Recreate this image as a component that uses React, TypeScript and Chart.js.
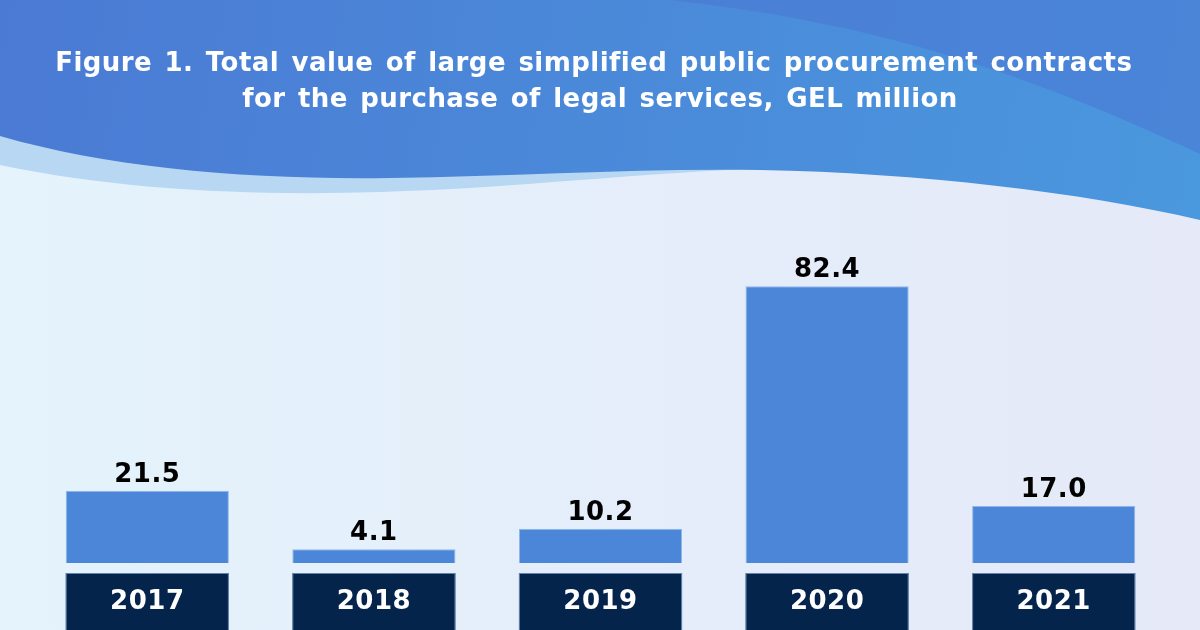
import React, { useEffect, useRef } from "react";
import { Chart, registerables } from "chart.js";

Chart.register(...registerables);

const years = ["2017", "2018", "2019", "2020", "2021"];
const values = [21.5, 4.1, 10.2, 82.4, 17.0];
const titleLines = [
  "Figure 1. Total value of large simplified public procurement contracts ",
  "for the purchase of legal services, GEL million",
];

const FONT = "'DejaVu Sans', sans-serif";

const backgroundPlugin = {
  id: "bgWaves",
  beforeDraw(chart: any) {
    const { ctx, width: W, height: H } = chart;
    ctx.save();
    const bg = ctx.createLinearGradient(0, 0, W, 0);
    bg.addColorStop(0, "#e4f3fc");
    bg.addColorStop(1, "#e5e9f8");
    ctx.fillStyle = bg;
    ctx.fillRect(0, 0, W, H);

    ctx.beginPath();
    ctx.moveTo(0, 120);
    ctx.lineTo(0, 165);
    ctx.bezierCurveTo(120, 190, 250, 196, 380, 192);
    ctx.bezierCurveTo(520, 188, 640, 172, 780, 168);
    ctx.lineTo(780, 120);
    ctx.closePath();
    ctx.fillStyle = "#b7d7f2";
    ctx.fill();

    const mg = ctx.createLinearGradient(0, 0, W, 220);
    mg.addColorStop(0, "#4b7ad4");
    mg.addColorStop(1, "#4a98de");
    ctx.beginPath();
    ctx.moveTo(0, 0);
    ctx.lineTo(0, 136);
    ctx.bezierCurveTo(110, 168, 250, 180, 390, 178);
    ctx.bezierCurveTo(520, 176, 640, 168, 760, 170);
    ctx.bezierCurveTo(920, 173, 1080, 192, 1200, 220);
    ctx.lineTo(W, 0);
    ctx.closePath();
    ctx.fillStyle = mg;
    ctx.fill();

    ctx.beginPath();
    ctx.moveTo(670, 0);
    ctx.bezierCurveTo(850, 20, 1000, 60, 1200, 154);
    ctx.lineTo(W, 0);
    ctx.closePath();
    ctx.fillStyle = "rgba(74,118,212,0.55)";
    ctx.fill();

    ctx.fillStyle = "#ffffff";
    ctx.font = `bold 26px ${FONT}`;
    (ctx as any).letterSpacing = "0.45px";
    ctx.textBaseline = "alphabetic";
    ctx.textAlign = "left";
    const gap = 12.4;
    const baselines = [71, 107];
    titleLines.forEach((line, i) => {
      const words = line.split(" ");
      const widths = words.map((w) => (w ? ctx.measureText(w).width : 0));
      const total = widths.reduce((a, b) => a + b, 0) + gap * (words.length - 1);
      let x = W / 2 - total / 2;
      words.forEach((w, j) => {
        if (w) ctx.fillText(w, x, baselines[i]);
        x += widths[j] + gap;
      });
    });
    ctx.restore();
  },
};

const labelsPlugin = {
  id: "barLabels",
  afterDatasetsDraw(chart: any) {
    const { ctx, chartArea, height: H } = chart;
    const meta = chart.getDatasetMeta(0);
    ctx.save();
    (ctx as any).letterSpacing = "0.5px";
    meta.data.forEach((bar: any, i: number) => {
      const half = bar.width / 2;
      const top = chartArea.bottom + 10;
      ctx.fillStyle = "#05244c";
      ctx.fillRect(bar.x - half, top, bar.width, H - top);
      ctx.strokeStyle = "rgba(160,195,235,0.6)";
      ctx.lineWidth = 1;
      ctx.strokeRect(bar.x - half + 0.5, top + 0.5, bar.width - 1, H - top + 2);
      ctx.fillStyle = "#ffffff";
      ctx.font = `bold 26px ${FONT}`;
      ctx.textAlign = "center";
      ctx.textBaseline = "alphabetic";
      ctx.fillText(years[i], bar.x, top + 36);
      ctx.fillStyle = "#000000";
      ctx.font = `bold 26px ${FONT}`;
      ctx.fillText(values[i].toFixed(1), bar.x, bar.y - 9);
    });
    ctx.restore();
  },
};

export default function App() {
  const ref = useRef<HTMLCanvasElement | null>(null);
  useEffect(() => {
    document.body.style.margin = "0";
    const canvas = ref.current;
    if (!canvas) return;
    const chart = new Chart(canvas, {
      type: "bar",
      data: {
        labels: years,
        datasets: [
          {
            data: values,
            backgroundColor: "#4c86d8",
            borderColor: "#8fb6ea",
            borderWidth: 1,
            barPercentage: 0.72,
            categoryPercentage: 1,
          },
        ],
      },
      options: {
        animation: false,
        responsive: false,
        maintainAspectRatio: false,
        layout: { padding: { left: 34, right: 33, top: 227, bottom: 67 } },
        plugins: {
          legend: { display: false },
          tooltip: { enabled: false },
          title: { display: false },
        },
        scales: {
          x: { display: false },
          y: { display: false, min: 0, max: 100 },
        },
      },
      plugins: [backgroundPlugin, labelsPlugin],
    });
    return () => chart.destroy();
  }, []);
  return (
    <div style={{ width: 1200, height: 630 }}>
      <canvas ref={ref} width={1200} height={630} style={{ display: "block" }} />
    </div>
  );
}
